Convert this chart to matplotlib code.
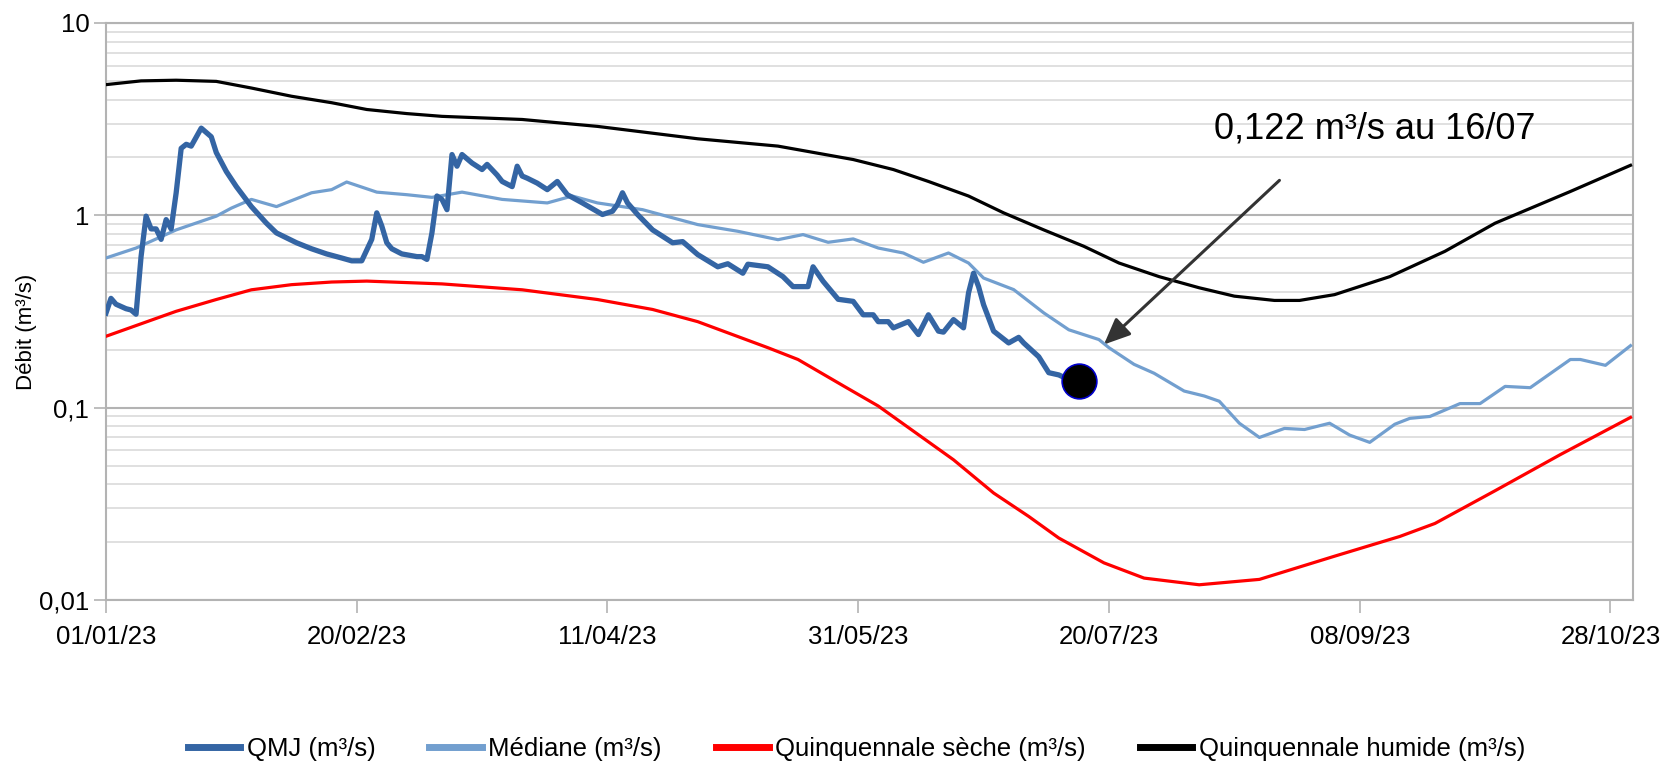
import numpy as np
import matplotlib.pyplot as plt
from matplotlib.ticker import FixedLocator, NullFormatter

plt.rcParams['font.family'] = ['Liberation Sans', 'DejaVu Sans']

# jours depuis le 01/01/23
qmj_days = [0, 1, 2, 4, 5, 6, 7, 8, 9, 10, 11, 12, 13, 14, 15, 16, 17, 19, 21, 22,
            24, 26, 29, 32, 34, 38, 41, 44, 47, 49, 51, 53, 54, 55, 56, 57, 59, 62, 63, 64,
            65, 66, 67, 68, 69, 70, 71, 73, 75, 76, 78, 79, 81, 82, 83, 84, 86, 88, 90, 92,
            95, 99, 101, 102, 103, 104, 106, 109, 113, 115, 118, 122, 124, 127, 128, 132, 135, 137, 140, 141,
            143, 146, 149, 151, 153, 154, 156, 157, 160, 162, 164, 166, 167, 169, 171, 172, 173, 174, 175, 177,
            180, 182, 183, 186, 188, 190, 192, 194]
qmj = [0.31, 0.37, 0.345, 0.327, 0.322, 0.306, 0.61, 0.99, 0.85, 0.85, 0.75, 0.95, 0.85, 1.31, 2.23, 2.34, 2.29, 2.84, 2.56, 2.12,
       1.69, 1.41, 1.11, 0.91, 0.81, 0.72, 0.67, 0.63, 0.60, 0.58, 0.58, 0.75, 1.03, 0.88, 0.72, 0.67, 0.63, 0.61, 0.61, 0.59,
       0.81, 1.26, 1.21, 1.07, 2.07, 1.80, 2.07, 1.87, 1.73, 1.84, 1.62, 1.50, 1.41, 1.80, 1.60, 1.56, 1.47, 1.36, 1.50, 1.28,
       1.16, 1.01, 1.05, 1.14, 1.31, 1.16, 1.01, 0.84, 0.72, 0.73, 0.625, 0.54, 0.56, 0.50, 0.557, 0.54, 0.48, 0.426, 0.426, 0.54,
       0.454, 0.366, 0.357, 0.304, 0.304, 0.28, 0.28, 0.26, 0.28, 0.24, 0.304, 0.25, 0.247, 0.287, 0.26, 0.395, 0.50, 0.426, 0.343, 0.25,
       0.217, 0.232, 0.217, 0.184, 0.152, 0.148, 0.14, 0.137]

med_days = [0, 6, 14, 22, 25, 29, 34, 41, 45, 48, 54, 60, 65, 71, 79, 88, 93, 98, 107, 118,
            126, 134, 139, 144, 149, 154, 159, 163, 168, 172, 175, 181, 187, 192, 198, 200, 205, 209, 215, 219,
            222, 226, 230, 235, 239, 244, 248, 252, 257, 260, 264, 270, 274, 279, 284, 292, 294, 299, 304]
mediane = [0.60, 0.676, 0.84, 0.99, 1.09, 1.21, 1.11, 1.31, 1.36, 1.49, 1.32, 1.28, 1.24, 1.32, 1.21, 1.16, 1.26, 1.16, 1.07, 0.895,
           0.826, 0.747, 0.794, 0.724, 0.754, 0.676, 0.637, 0.570, 0.637, 0.565, 0.472, 0.411, 0.311, 0.254, 0.226, 0.205, 0.168, 0.151, 0.122, 0.115,
           0.108, 0.083, 0.070, 0.078, 0.077, 0.083, 0.072, 0.066, 0.082, 0.088, 0.090, 0.105, 0.105, 0.129, 0.127, 0.178, 0.178, 0.166, 0.21]

seche_days = [0, 14, 22, 29, 37, 45, 52, 67, 83, 98, 109, 118, 132, 138, 147, 154, 169, 177, 184, 190,
              199, 207, 218, 230, 245, 258, 265, 277, 290, 304]
seche = [0.235, 0.317, 0.365, 0.41, 0.436, 0.45, 0.455, 0.44, 0.41, 0.365, 0.324, 0.28, 0.205, 0.178, 0.13, 0.102, 0.0536, 0.036, 0.0272, 0.021,
         0.0156, 0.013, 0.012, 0.0128, 0.0169, 0.0214, 0.025, 0.037, 0.057, 0.089]

humide_days = [0, 7, 14, 22, 29, 37, 45, 52, 60, 67, 83, 98, 118, 134, 149, 157, 164, 172, 179, 187,
               195, 202, 210, 218, 225, 233, 238, 245, 256, 267, 277, 292, 304]
humide = [4.78, 5.0, 5.04, 4.97, 4.59, 4.16, 3.85, 3.55, 3.38, 3.27, 3.15, 2.90, 2.50, 2.29, 1.95, 1.73, 1.50, 1.26, 1.03, 0.84,
          0.69, 0.565, 0.48, 0.42, 0.38, 0.361, 0.361, 0.387, 0.48, 0.65, 0.91, 1.33, 1.82]

tick_days = [0, 50, 100, 150, 200, 250, 300]
tick_labels = ['01/01/23', '20/02/23', '11/04/23', '31/05/23', '20/07/23', '08/09/23', '28/10/23']

fig = plt.figure(figsize=(16.66, 7.66), dpi=100)
ax = fig.add_axes([0.0636, 0.2167, 0.9166, 0.7533])

ax.plot(qmj_days, qmj, color='#3465a4', lw=3.8, label='QMJ (m³/s)', zorder=5, solid_joinstyle='round')
ax.plot(med_days, mediane, color='#729fcf', lw=2.3, label='Médiane (m³/s)', zorder=4, solid_joinstyle='round')
ax.plot(seche_days, seche, color='#ff0000', lw=2.3, label='Quinquennale sèche (m³/s)', zorder=3, solid_joinstyle='round')
ax.plot(humide_days, humide, color='#000000', lw=2.3, label='Quinquennale humide (m³/s)', zorder=3, solid_joinstyle='round')
ax.plot(qmj_days[-1], qmj[-1], 'o', ms=25, color='black', mec='#0000cc', mew=1.2, zorder=6)

ax.set_yscale('log')
ax.set_ylim(0.01, 10)
ax.set_xlim(0, 304.5)
ax.yaxis.set_major_locator(FixedLocator([0.01, 0.1, 1, 10]))
ax.set_yticklabels(['0,01', '0,1', '1', '10'])
minors = [m * 10.0 ** e for e in (-2, -1, 0) for m in range(2, 10)]
ax.yaxis.set_minor_locator(FixedLocator(minors))
ax.yaxis.set_minor_formatter(NullFormatter())
ax.grid(which='major', axis='y', color='#b3b3b3', lw=1.5)
ax.grid(which='minor', axis='y', color='#dddddd', lw=1.3)
ax.set_axisbelow(True)

ax.set_xticks(tick_days)
ax.set_xticklabels(tick_labels)
ax.tick_params(axis='both', which='major', labelsize=18.5, color='#b3b3b3', length=9, width=1.2)
ax.tick_params(axis='x', pad=9)
ax.tick_params(axis='y', pad=3)
ax.tick_params(axis='y', which='minor', length=0)
for s in ax.spines.values():
    s.set_color('#b3b3b3')
    s.set_linewidth(1.5)

fig.text(0.016, 0.567, 'Débit (m³/s)', fontsize=16, rotation=90, ha='center', va='center')

ax.annotate('', xy=(199, 0.213), xytext=(234, 1.52),
            arrowprops=dict(arrowstyle='-|>,head_length=1.6,head_width=0.7', color='#333333', lw=2.2,
                            shrinkA=0, shrinkB=0), zorder=7)
ax.text(253, 2.8, '0,122 m³/s au 16/07', fontsize=26, ha='center', va='center', zorder=7)

fig.legend(loc='center', bbox_to_anchor=(0.514, 1 - 749 / 766), ncol=4, frameon=False,
           fontsize=18.5, handlelength=2.05, handletextpad=0.25, columnspacing=2.1)
leg = fig.legends[0]
for h in leg.get_lines():
    h.set_linewidth(5)

fig.savefig('out.png', dpi=100)
